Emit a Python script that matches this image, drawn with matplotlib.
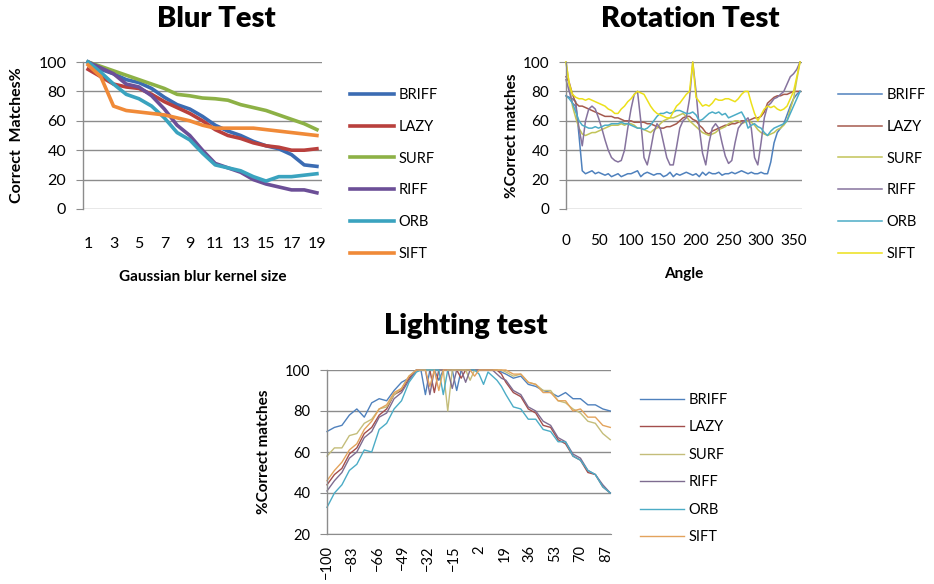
import matplotlib
matplotlib.use("Agg")
import matplotlib.pyplot as plt
import numpy as np

plt.rcParams['font.family'] = ['Lato', 'DejaVu Sans']

methods = ["BRIFF", "LAZY", "SURF", "RIFF", "ORB", "SIFT"]

# ---- blur test ----
blur_x = list(range(1, 20))
blur_ticks = [1, 3, 5, 7, 9, 11, 13, 15, 17, 19]
blur_briff = [100, 95, 92, 88, 86, 82, 76, 71, 68, 63, 57, 53, 50, 46, 43, 41, 37, 30, 29]
blur_lazy = [95, 90, 85, 83, 82, 78, 73, 69, 65, 60, 54, 50, 48, 45, 43, 42, 40, 40, 41]
blur_surf = [100, 97, 94, 91, 88, 85, 82, 78, 77, 75.5, 75, 74, 71, 69, 67, 64, 61, 58, 54]
blur_riff = [100, 96, 92, 85, 83, 77, 68, 57, 50, 40, 31, 28, 25, 20, 17, 15, 13, 13, 11]
blur_orb = [100, 93, 85, 78, 75, 70, 62, 52, 47, 38, 30, 28, 26, 22, 19, 22, 22, 23, 24]
blur_sift = [98, 90, 70, 67, 66, 65, 64, 62, 60, 57, 55, 55, 55, 55, 54, 53, 52, 51, 50]

# ---- rotation test (every 5 degrees) ----
rot_x = list(range(0, 361, 5))
rot_ticks = [0, 50, 100, 150, 200, 250, 300, 350]
rot_briff = [77, 76, 75, 73, 50, 26, 24, 25, 26, 24, 25, 24, 23, 24, 22, 23, 24, 22, 23,
             24, 24, 25, 26, 22, 24, 25, 24, 23, 24, 24, 22, 23, 25, 22, 24, 23, 24, 25,
             24, 23, 24, 22, 25, 23, 25, 24, 24, 25, 23, 24, 24, 25, 24, 25, 26, 25, 24,
             25, 24, 24, 25, 24, 24, 32, 45, 52, 55, 58, 64, 70, 75, 78, 80]
rot_lazy = [90, 86, 78, 72, 70, 70, 69, 68, 67, 66, 65, 64, 63, 63, 63, 62, 62, 61, 60,
            60, 60, 59, 59, 59, 59, 58, 58, 57, 56, 55, 55, 56, 56, 57, 58, 60, 62, 63,
            63, 61, 60, 57, 55, 52, 51, 53, 54, 55, 56, 57, 57, 58, 58, 59, 60, 60, 60,
            61, 62, 62, 63, 66, 72, 74, 76, 77, 77, 78, 78, 79, 80, 80, 80]
rot_surf = [100, 85, 70, 62, 55, 51, 50, 51, 52, 52, 53, 54, 55, 56, 57, 57, 57, 58, 57,
            58, 58, 57, 55, 55, 54, 53, 52, 54, 55, 58, 60, 61, 62, 62, 63, 64, 65, 63,
            60, 58, 56, 54, 52, 51, 50, 51, 52, 54, 55, 56, 58, 59, 60, 60, 58, 59, 60,
            59, 57, 54, 52, 51, 50, 51, 52, 54, 55, 57, 60, 68, 75, 88, 100]
rot_riff = [88, 80, 72, 70, 55, 43, 60, 68, 70, 68, 62, 55, 47, 40, 35, 33, 32, 33, 40,
            55, 68, 78, 80, 60, 35, 30, 40, 52, 58, 55, 45, 35, 30, 30, 42, 55, 60, 62,
            75, 100, 80, 55, 38, 30, 45, 55, 58, 55, 45, 36, 31, 33, 45, 55, 58, 60, 62,
            55, 35, 30, 45, 62, 70, 72, 75, 76, 78, 80, 85, 90, 92, 95, 100]
rot_orb = [77, 75, 72, 66, 60, 57, 56, 55, 55, 56, 55, 56, 57, 57, 58, 58, 58, 59, 58,
           58, 57, 56, 55, 55, 54, 55, 57, 60, 63, 65, 65, 66, 65, 66, 67, 67, 66, 65,
           65, 66, 64, 60, 61, 63, 65, 66, 65, 66, 64, 65, 62, 63, 64, 65, 66, 62, 55,
           57, 58, 56, 55, 52, 50, 53, 55, 56, 57, 58, 60, 65, 70, 75, 80]
rot_sift = [100, 85, 78, 76, 75, 75, 74, 75, 74, 73, 72, 71, 70, 68, 67, 65, 65, 68, 70,
            73, 75, 78, 80, 79, 78, 74, 70, 67, 65, 64, 63, 62, 62, 66, 70, 72, 75, 78,
            80, 100, 76, 73, 70, 71, 70, 72, 75, 74, 74, 75, 75, 74, 73, 75, 78, 80, 80,
            72, 65, 60, 64, 68, 70, 69, 70, 68, 67, 68, 70, 75, 80, 90, 100]

# ---- lighting test ----
light_x = [-100, -95, -90, -85, -80, -75, -70, -65, -60, -55, -50, -45, -40,
           -37, -34, -31, -28, -25, -22, -19, -16, -13, -10, -7, -4, -1, 2, 5, 8, 11, 14, 17,
           20, 25, 30, 35, 40, 45, 50, 55, 60, 65, 70, 75, 80, 85, 90]
light_ticks = [-100, -83, -66, -49, -32, -15, 2, 19, 36, 53, 70, 87]
light_briff = [70, 72, 73, 78, 81, 77, 84, 86, 85, 90, 94, 96, 100,
               100, 88, 100, 100, 95, 100, 100, 100, 90, 100, 100, 100, 100, 100, 100, 100, 100, 100, 99,
               98, 96, 97, 93, 92, 90, 89, 87, 89, 86, 86, 83, 83, 81, 80]
light_lazy = [44, 49, 52, 59, 62, 69, 72, 78, 81, 88, 90, 96, 100,
              100, 100, 100, 89, 100, 100, 100, 100, 100, 96, 100, 100, 100, 100, 100, 100, 100, 100, 98,
              94, 89, 87, 81, 79, 73, 72, 66, 64, 58, 56, 50, 49, 43, 40]
light_surf = [58, 62, 62, 68, 69, 74, 76, 81, 82, 88, 91, 97, 100,
              100, 100, 100, 100, 100, 100, 80, 100, 100, 100, 100, 95, 100, 100, 100, 100, 100, 100, 100,
              99, 97, 98, 94, 93, 90, 90, 85, 84, 81, 79, 75, 74, 69, 66]
light_riff = [41, 46, 50, 57, 60, 67, 70, 77, 79, 86, 89, 95, 100,
              100, 100, 88, 100, 100, 100, 100, 91, 100, 100, 94, 100, 100, 100, 100, 100, 100, 98, 96,
              95, 90, 88, 82, 80, 75, 73, 67, 65, 59, 57, 51, 49, 44, 40]
light_orb = [33, 40, 44, 51, 54, 61, 60, 71, 74, 81, 85, 94, 99,
             100, 100, 100, 100, 100, 88, 100, 100, 100, 100, 100, 100, 100, 98, 93, 99, 97, 95, 92,
             88, 82, 81, 76, 76, 71, 70, 65, 65, 58, 56, 51, 49, 43, 40]
light_sift = [46, 51, 55, 61, 64, 71, 75, 81, 83, 89, 91, 97, 100,
              100, 100, 92, 100, 90, 100, 100, 100, 100, 100, 100, 100, 97, 100, 100, 100, 100, 100, 100,
              100, 98, 98, 94, 93, 89, 89, 85, 85, 80, 81, 77, 77, 73, 72]

blur_colors = ["#3b6cb3", "#b9403d", "#8db146", "#6c4f97", "#3aa3bf", "#f08a38"]
rot_colors = ["#4f81bd", "#a55a4e", "#c2c458", "#86739e", "#4bacc6", "#ece01a"]
light_colors = ["#4f81bd", "#a34e4c", "#c4bd7a", "#7e6c90", "#4bacc6", "#e3a35c"]

GRID = "#8c8c8c"


def style_axes(ax, lo, hi, step, fs):
    for s in ["top", "right", "bottom"]:
        ax.spines[s].set_visible(False)
    ax.spines["left"].set_color(GRID)
    ax.spines["left"].set_linewidth(1.0)
    ax.set_ylim(lo, hi)
    ax.set_yticks(np.arange(lo, hi + 1, step))
    ax.yaxis.grid(True, color=GRID, linewidth=1.0)
    ax.set_axisbelow(True)
    ax.tick_params(axis="y", length=5, color=GRID, labelsize=fs, pad=7)
    ax.tick_params(axis="x", length=0, labelsize=fs)


def add_legend(ax, handles, anchor, spacing, fs):
    ax.legend(handles, methods, loc="upper left", bbox_to_anchor=anchor,
              bbox_transform=fig.transFigure, frameon=False, fontsize=fs,
              handlelength=3.0, handletextpad=0.3, labelspacing=spacing,
              borderpad=0, borderaxespad=0)


fig = plt.figure(figsize=(9.34, 5.84), dpi=100)

# blur
ax1 = fig.add_axes([83 / 934, 1 - 209 / 584, 239 / 934, 147 / 584])
style_axes(ax1, 0, 100, 20, 11.5)
hs = []
for ys, c in zip([blur_briff, blur_lazy, blur_surf, blur_riff, blur_orb, blur_sift], blur_colors):
    h, = ax1.plot(blur_x, ys, color=c, linewidth=2.6, clip_on=False, solid_joinstyle="round")
    hs.append(h)
ax1.set_xlim(0.6, 19.4)
ax1.set_xticks(blur_ticks)
ax1.tick_params(axis="x", pad=20)
ax1.set_xlabel("Gaussian blur kernel size", fontsize=11, fontweight="bold", labelpad=14)
ax1.set_ylabel("Correct  Matches%", fontsize=11.5, fontweight="bold", labelpad=10)
add_legend(ax1, hs, (350 / 934, 1 - 88 / 584), 1.22, 10.5)

# rotation
ax2 = fig.add_axes([566 / 934, 1 - 209 / 584, 236 / 934, 147 / 584])
style_axes(ax2, 0, 100, 20, 11)
hs = []
for ys, c in zip([rot_briff, rot_lazy, rot_surf, rot_riff, rot_orb, rot_sift], rot_colors):
    h, = ax2.plot(rot_x, ys, color=c, linewidth=1.1, clip_on=False)
    hs.append(h)
ax2.set_xlim(0, 363)
ax2.set_xticks(rot_ticks)
ax2.tick_params(axis="x", pad=18)
ax2.set_xlabel("Angle", fontsize=11, fontweight="bold", labelpad=14)
ax2.set_ylabel("%Correct matches", fontsize=11, fontweight="bold", labelpad=3)
add_legend(ax2, hs, (838 / 934, 1 - 88 / 584), 1.22, 10.5)

# lighting
ax3 = fig.add_axes([327 / 934, 1 - 534 / 584, 284 / 934, 164 / 584])
style_axes(ax3, 20, 100, 20, 10.5)
ax3.spines["bottom"].set_visible(True)
ax3.spines["bottom"].set_color(GRID)
hs = []
for ys, c in zip([light_briff, light_lazy, light_surf, light_riff, light_orb, light_sift], light_colors):
    h, = ax3.plot(light_x, ys, color=c, linewidth=1.0, clip_on=False)
    hs.append(h)
ax3.set_xlim(-100, 90.5)
ax3.set_xticks(light_ticks)
ax3.tick_params(axis="x", rotation=90, pad=8)
ax3.set_ylabel("%Correct matches", fontsize=11, fontweight="bold", labelpad=10)
add_legend(ax3, hs, (640 / 934, 1 - 393 / 584), 0.92, 10.5)

fig.text(216 / 934, 1 - 19 / 584, "Blur Test", fontsize=21, fontweight="heavy", ha="center", va="center")
fig.text(690 / 934, 1 - 19 / 584, "Rotation Test", fontsize=21, fontweight="heavy", ha="center", va="center")
fig.text(466 / 934, 1 - 326 / 584, "Lighting test", fontsize=21, fontweight="heavy", ha="center", va="center")

fig.savefig("out.png", dpi=100)
